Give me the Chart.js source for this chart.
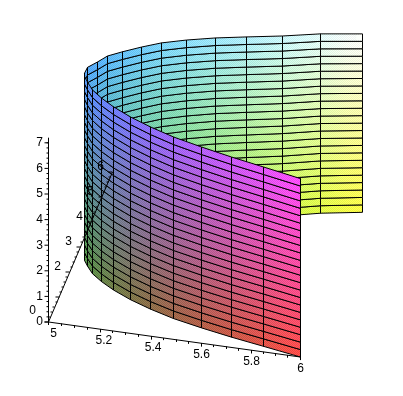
<!DOCTYPE html>
<html>
<head>
<meta charset="utf-8">
<style>
  html, body { margin: 0; padding: 0; background: #fff; }
  canvas { display: block; }
</style>
<script src="https://cdn.jsdelivr.net/npm/chart.js@4/dist/chart.umd.min.js"></script>
</head>
<body>
<canvas id="plot" width="403" height="396"></canvas>
<script>
// surface: one (x, y) per vertical grid line, then the z levels
const curveX = [6, 5.841, 5.704, 5.575, 5.455, 5.354, 5.265, 5.188, 5.13, 5.085, 5.055, 5.035, 5.03,
                5.032, 5.06, 5.085, 5.135, 5.196, 5.263, 5.35, 5.454, 5.568, 5.701, 5.841, 6];
const curveY = [0, 0.218, 0.399, 0.593, 0.799, 1.033, 1.284, 1.56, 1.812, 2.059, 2.319, 2.518, 2.63,
                2.87, 3.135, 3.42, 3.68, 3.98, 4.269, 4.543, 4.817, 5.066, 5.347, 5.69, 5.98];
const zLevels = [0, 0.3, 0.6, 0.9, 1.2, 1.5, 1.8, 2.1, 2.4, 2.7, 3, 3.3, 3.6, 3.9, 4.2, 4.5, 4.8, 5.1,
                 5.4, 5.7, 6, 6.3, 6.6, 6.9, 7.2];

// tick labels
const xTicks = [5, 5.2, 5.4, 5.6, 5.8, 6];
const xLabels = ["5", "5.2", "5.4", "5.6", "5.8", "6"];
const yTicks = [0, 2, 3, 4, 5, 6];
const zTicks = [0, 1, 2, 3, 4, 5, 6, 7];
const xMinor = [5.05, 5.1, 5.15, 5.25, 5.3, 5.35, 5.45, 5.5, 5.55, 5.65, 5.7, 5.75, 5.85, 5.9, 5.95];
const yMajor = [0, 1, 2, 3, 4, 5, 6];
const yMinor = [0.2, 0.4, 0.6, 0.8, 1.2, 1.4, 1.6, 1.8, 2.2, 2.4, 2.6, 2.8, 3.2, 3.4, 3.6, 3.8, 4.2, 4.4, 4.6, 4.8, 5.2, 5.4, 5.6, 5.8];
const zMinor = [0.2, 0.4, 0.6, 0.8, 1.2, 1.4, 1.6, 1.8, 2.2, 2.4, 2.6, 2.8, 3.2, 3.4, 3.6, 3.8, 4.2, 4.4, 4.6, 4.8, 5.2, 5.4, 5.6, 5.8, 6.2, 6.4, 6.6, 6.8, 7];

// view of the box, x is snapped so the verticals stay one pixel wide
function project(x, y, z) {
  const X = x - 5;
  const w = 1 + 0.033 * X;
  return {
    x: Math.round(48 + (260 * X + 10.7 * y) / w) + 0.5,
    y: 322 + (36.2 * X - 25 * y - 25.6 * z) / w
  };
}

function shade(x, y, z) {
  const r = 80 + 175 * (x - 5);
  const g = Math.min(255, 78 + 190 * y / 6);
  const b = 70 + 185 * z / 7.2;
  return "rgb(" + Math.round(r) + "," + Math.round(g) + "," + Math.round(b) + ")";
}

const ctx = document.getElementById("plot").getContext("2d");

function cellFill(i, zMid) {
  const a = project(curveX[i], curveY[i], zMid);
  const b = project(curveX[i + 1], curveY[i + 1], zMid);
  const grad = ctx.createLinearGradient(a.x, a.y, b.x, b.y);
  grad.addColorStop(0, shade(curveX[i], curveY[i], zMid));
  grad.addColorStop(1, shade(curveX[i + 1], curveY[i + 1], zMid));
  return grad;
}

const datasets = [];
let drawOrder = 5000;

// back strips first so the front of the wall covers them
for (let i = curveX.length - 2; i >= 0; i--) {
  for (let k = 0; k < zLevels.length - 1; k++) {
    const z0 = zLevels[k], z1 = zLevels[k + 1];
    datasets.push({
      data: [
        project(curveX[i], curveY[i], z0),
        project(curveX[i + 1], curveY[i + 1], z0),
        project(curveX[i + 1], curveY[i + 1], z1),
        project(curveX[i], curveY[i], z1),
        project(curveX[i], curveY[i], z0)
      ],
      showLine: true,
      fill: "shape",
      backgroundColor: cellFill(i, (z0 + z1) / 2),
      borderColor: "#000",
      borderWidth: 1,
      pointRadius: 0,
      tension: 0,
      order: drawOrder--
    });
  }
}

function axisSet(points) {
  return {
    data: points,
    showLine: true,
    fill: false,
    borderColor: "#000",
    borderWidth: 1,
    pointRadius: 0,
    tension: 0,
    spanGaps: false,
    order: 0
  };
}

function tickRun(values, at, dx, dy) {
  const pts = [];
  values.forEach(function (v) {
    const p = at(v);
    pts.push(p, { x: p.x + dx, y: p.y + dy }, { x: NaN, y: NaN });
  });
  return pts;
}

const onX = v => project(v, 0, 0);
const onY = v => project(5, v, 0);
const onZ = v => project(5, 0, v);

datasets.push(axisSet([project(5, 0, 0), project(6, 0, 0)]));
datasets.push(axisSet([project(5, 0, 0), project(5, 6, 0)]));
datasets.push(axisSet([project(5, 0, 0), project(5, 0, 7.2)]));
datasets.push(axisSet(tickRun(xTicks, onX, 0, 3)));
datasets.push(axisSet(tickRun(xMinor, onX, 0, 2)));
datasets.push(axisSet(tickRun(yMajor, onY, -4, 0)));
datasets.push(axisSet(tickRun(yMinor, onY, -2, 0)));
datasets.push(axisSet(tickRun(zTicks, onZ, -4, 0)));
datasets.push(axisSet(tickRun(zMinor, onZ, -2, 0)));

// the original is a 256 colour render, a checker keeps that grainy look on the wall
const grain = {
  id: "grain",
  afterDatasetsDraw(chart) {
    const c = chart.ctx;
    const img = c.getImageData(0, 0, chart.width, chart.height);
    const d = img.data;
    for (let py = 0; py < chart.height; py++) {
      for (let px = 0; px < chart.width; px++) {
        const n = (py * chart.width + px) * 4;
        const hi = Math.max(d[n], d[n + 1], d[n + 2]);
        const lo = Math.min(d[n], d[n + 1], d[n + 2]);
        if (lo > 250 || hi < 60) continue;
        const step = (px + py) % 2 ? 9 : -9;
        d[n] += step;
        d[n + 1] += step;
        d[n + 2] += step;
      }
    }
    c.putImageData(img, 0, 0);
  }
};

const tickText = {
  id: "tickText",
  afterDatasetsDraw(chart) {
    const c = chart.ctx, sx = chart.scales.x, sy = chart.scales.y;
    c.save();
    c.fillStyle = "#000";
    c.font = '12px "Liberation Sans"';
    c.textAlign = "center";
    c.textBaseline = "middle";
    xTicks.forEach(function (v, i) {
      const p = onX(v);
      const dx = Math.max(0, 5 * (1 - (v - 5) / 0.6));
      c.fillText(xLabels[i], sx.getPixelForValue(p.x + dx), sy.getPixelForValue(p.y + 11.5));
    });
    yTicks.forEach(function (v) {
      const p = onY(v);
      const dx = v === 0 ? -16 : -12;
      const dy = v === 0 ? -11 : -5;
      c.fillText(String(v), sx.getPixelForValue(p.x + dx), sy.getPixelForValue(p.y + dy));
    });
    zTicks.forEach(function (v) {
      const p = onZ(v);
      c.fillText(String(v), sx.getPixelForValue(p.x - 9), sy.getPixelForValue(p.y));
    });
    c.restore();
  }
};

new Chart(ctx, {
  type: "scatter",
  data: { datasets: datasets },
  plugins: [grain, tickText],
  options: {
    responsive: false,
    animation: false,
    events: [],
    layout: { padding: 0 },
    scales: {
      x: { type: "linear", min: 0, max: 403, display: false },
      y: { type: "linear", min: 0, max: 396, reverse: true, display: false }
    },
    plugins: {
      legend: { display: false },
      tooltip: { enabled: false }
    }
  }
});
</script>
</body>
</html>
